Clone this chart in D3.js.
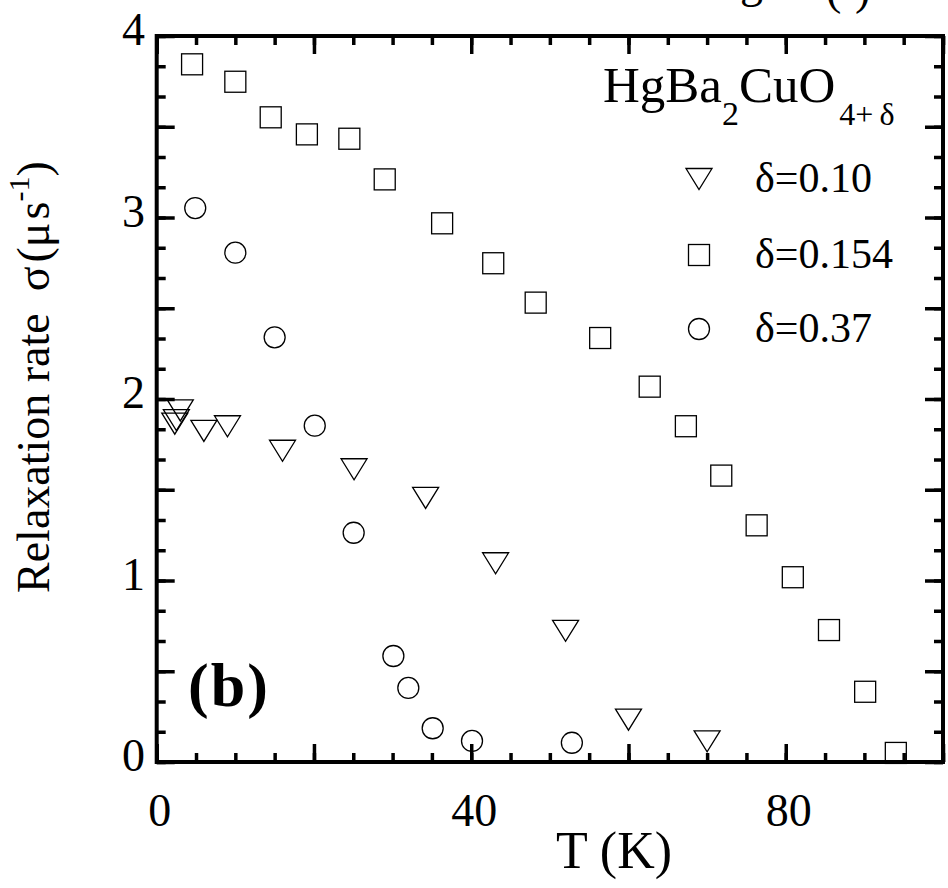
<!doctype html>
<html lang="en">
  <head>
    <meta charset="utf-8">
    <title>Relaxation rate vs T</title>
    <style>
      * { margin: 0; border: 0; padding: 0; }
      body { background-color: #fff; }
      svg { display: block; }
      svg text { font-family: "Liberation Serif", "DejaVu Serif", serif; fill: #000; }
      .mark { fill: none; stroke: #000; stroke-width: 1.3px; }
    </style>
  </head>
  <body>
    <div id="plot"></div>

<script src="https://cdnjs.cloudflare.com/ajax/libs/d3/7.8.5/d3.min.js"></script>
<script>

  // delta = 0.10 (triangles)
  var t010 = [2.3, 2.5, 3.0, 6.0, 9.0, 16.0, 25.1, 34.2, 43.1, 52.0, 60.0, 70.0];
  var s010 = [1.864, 1.884, 1.937, 1.824, 1.850, 1.715, 1.613, 1.455, 1.095, 0.723, 0.233, 0.114];

  // delta = 0.154 (squares)
  var t0154 = [4.5, 10.0, 14.5, 19.1, 24.5, 29.0, 36.3, 42.8, 48.2, 56.4, 62.7, 67.3, 71.8, 76.3, 80.9, 85.5, 90.1, 94.0];
  var s0154 = [3.844, 3.748, 3.552, 3.458, 3.434, 3.210, 2.968, 2.748, 2.531, 2.336, 2.068, 1.850, 1.578, 1.304, 1.018, 0.727, 0.387, 0.05];

  // delta = 0.37 (circles)
  var t037 = [4.9, 10.0, 15.0, 20.1, 25.05, 30.1, 32.0, 35.1, 40.1, 52.8];
  var s037 = [3.052, 2.806, 2.34, 1.853, 1.263, 0.584, 0.408, 0.186, 0.116, 0.106];

  var legendLabels = ["\u03b4=0.10", "\u03b4=0.154", "\u03b4=0.37"];
  var xLabels = [0, 40, 80];
  var yLabels = [0, 1, 2, 3, 4];

  var width = 948, height = 888;
  var mLeft = 156.7, mRight = 943, mTop = 36, mBottom = 762;
  var serif = "Liberation Serif, DejaVu Serif, serif";

  var x = d3.scaleLinear().domain([0, 100]).range([mLeft, mRight]);
  var y = d3.scaleLinear().domain([0, 4]).range([mBottom, mTop]);

  var svg = d3.select("#plot").append("svg")
    .attr("width", width).attr("height", height)
    .attr("font-family", serif);

  // marker shapes, centred on the point
  function tri(g) {
    g.append("path").attr("class", "mark").attr("d", "M-13,-10.5L13,-10.5L0,10.5Z");
  }
  function sq(g) {
    g.append("rect").attr("class", "mark").attr("x", -10.5).attr("y", -10.5).attr("width", 21).attr("height", 21);
  }
  function circ(g) {
    g.append("circle").attr("class", "mark").attr("r", 10.5);
  }

  var series = [
    {t: t010, s: s010, shape: tri},
    {t: t0154, s: s0154, shape: sq},
    {t: t037, s: s037, shape: circ}
  ];

  series.forEach(function(se) {
    svg.append("g").selectAll("g")
      .data(se.t.map((d, i) => [d, se.s[i]]))
      .join("g")
      .attr("transform", d => "translate(" + x(d[0]) + "," + y(d[1]) + ")")
      .each(function() { se.shape(d3.select(this)); });
  });

  // axes: ticks point inward, majors longer
  var xMinor = d3.range(0, 100.001, 5);
  var xMajor = d3.range(0, 100.001, 20);
  var yMinor = d3.range(0, 4.001, 1 / 6);
  var yMajor = d3.range(0, 4.001, 0.5);

  function styleAxis(g) {
    g.select(".domain").remove();
    g.selectAll("line").attr("stroke", "#000").attr("stroke-width", 3.5);
    g.selectAll("text").remove();
  }

  svg.append("g").attr("transform", "translate(0," + mBottom + ")")
    .call(d3.axisBottom(x).tickValues(xMinor).tickSize(-9)).call(styleAxis);
  svg.append("g").attr("transform", "translate(0," + mBottom + ")")
    .call(d3.axisBottom(x).tickValues(xMajor).tickSize(-18)).call(styleAxis);
  svg.append("g").attr("transform", "translate(0," + mTop + ")")
    .call(d3.axisTop(x).tickValues(xMinor).tickSize(-9)).call(styleAxis);
  svg.append("g").attr("transform", "translate(0," + mTop + ")")
    .call(d3.axisTop(x).tickValues(xMajor).tickSize(-18)).call(styleAxis);
  svg.append("g").attr("transform", "translate(" + mLeft + ",0)")
    .call(d3.axisLeft(y).tickValues(yMinor).tickSize(-9)).call(styleAxis);
  svg.append("g").attr("transform", "translate(" + mLeft + ",0)")
    .call(d3.axisLeft(y).tickValues(yMajor).tickSize(-18)).call(styleAxis);
  svg.append("g").attr("transform", "translate(" + mRight + ",0)")
    .call(d3.axisRight(y).tickValues(yMinor).tickSize(-9)).call(styleAxis);
  svg.append("g").attr("transform", "translate(" + mRight + ",0)")
    .call(d3.axisRight(y).tickValues(yMajor).tickSize(-18)).call(styleAxis);

  svg.append("rect")
    .attr("x", mLeft).attr("y", mTop)
    .attr("width", mRight - mLeft).attr("height", mBottom - mTop)
    .attr("fill", "none").attr("stroke", "#000").attr("stroke-width", 4);

  // tick labels
  svg.append("g").selectAll("text").data(xLabels).join("text")
    .attr("x", d => x(d) + 3).attr("y", 826)
    .attr("text-anchor", "middle").attr("font-size", 46)
    .text(d => d);
  svg.append("g").selectAll("text").data(yLabels).join("text")
    .attr("x", 145).attr("y", d => y(d) + 9)
    .attr("text-anchor", "end").attr("font-size", 46)
    .text(d => d);

  // axis titles
  svg.append("text").attr("x", 614).attr("y", 868)
    .attr("text-anchor", "middle").attr("font-size", 52).text("T (K)");

  var yt = svg.append("text")
    .attr("transform", "translate(49,593) rotate(-90)")
    .attr("font-size", 46);
  yt.append("tspan").text("Relaxation rate");
  yt.append("tspan").attr("dx", 22).text("\u03c3");
  yt.append("tspan").attr("dx", 4).text("(\u03bc");
  yt.append("tspan").attr("dx", 3).text("s");
  yt.append("tspan").attr("font-size", 30).attr("dy", -20).text("-1");
  yt.append("tspan").attr("dy", 20).text(")");

  // panel label
  svg.append("text").attr("x", 188).attr("y", 706)
    .attr("font-size", 62).attr("font-weight", "bold")
    .attr("letter-spacing", 2).text("(b)");

  // clipped title remnant at the very top
  svg.append("text").attr("x", 740).attr("y", -3).attr("font-size", 46).text("g");
  svg.append("text").attr("x", 826).attr("y", 4).attr("font-size", 46).text("(");
  svg.append("text").attr("x", 855).attr("y", 4).attr("font-size", 46).text(")");

  // compound label
  var ct = svg.append("text").attr("x", 603).attr("y", 102).attr("font-size", 51);
  ct.append("tspan").text("HgBa");
  ct.append("tspan").attr("font-size", 34).attr("dy", 23).text("2");
  ct.append("tspan").attr("dy", -23).text("CuO");
  ct.append("tspan").attr("font-size", 32).attr("dy", 23).attr("dx", 4).text("4+");
  ct.append("tspan").attr("font-size", 32).attr("dx", 6).text("\u03b4");

  // legend
  var legendY = [179, 255, 329];
  var shapes = [tri, sq, circ];
  legendLabels.forEach(function(lab, i) {
    var g = svg.append("g").attr("transform", "translate(699," + legendY[i] + ")");
    shapes[i](g);
    svg.append("text").attr("x", 755).attr("y", legendY[i] + 13)
      .attr("font-size", 42).text(lab);
  });

</script>
  </body>
</html>
